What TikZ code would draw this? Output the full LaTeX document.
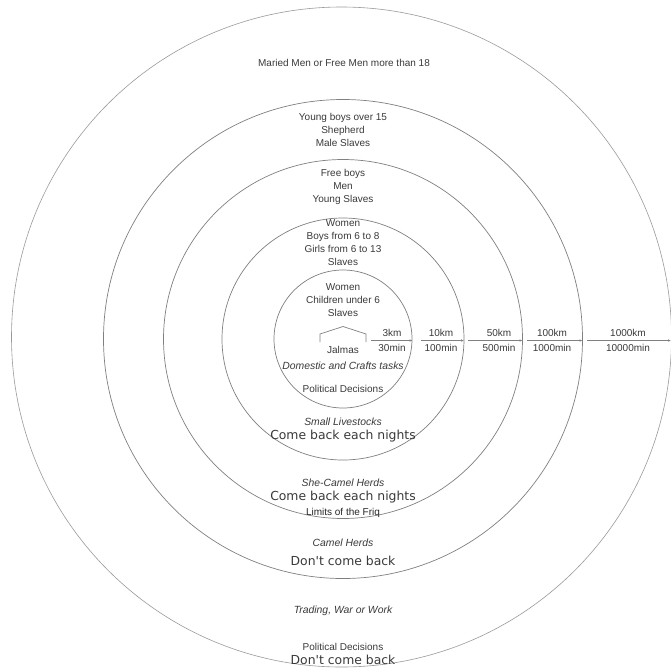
\documentclass[tikz,border=0pt]{standalone}
\usepackage{fontspec}
\setmainfont{Liberation Sans}
\newfontfamily\widefont{DejaVu Sans}
\usetikzlibrary{arrows.meta}
\definecolor{txt}{HTML}{3A3A3A}
\definecolor{ring}{HTML}{808080}
\definecolor{ringout}{HTML}{9A9A9A}
\begin{document}
\begin{tikzpicture}[x=1pt,y=-1pt,
  lbl/.style={font=\fontsize{10}{13}\selectfont, text=txt, align=center, inner sep=0pt},
  ilbl/.style={lbl, font=\fontsize{10.4}{13}\selectfont\itshape},
  big/.style={font=\fontsize{12.4}{14}\selectfont\widefont, text=txt, inner sep=0pt},
  ringline/.style={draw=ring, line width=0.7pt},
  dist/.style={draw=ring, line width=0.6pt, -{Latex[length=3pt,width=2.6pt]}}]
\useasboundingbox (0,0) rectangle (671,670);
\fill[white] (0,0) rectangle (671,670);
% rings
\coordinate (c) at (343,339);
\draw[draw=ringout, line width=0.6pt] (341.5,337) circle[radius=330];
\draw[ringline] (c) circle[radius=239.5];
\draw[ringline] (c) circle[radius=179.5];
\draw[ringline] (c) circle[radius=121];
\draw[ringline] (c) circle[radius=69];
% top labels
\node[lbl] (maried) at (344,63) {Maried Men or Free Men more than 18};
\node[lbl] (young) at (343,130) {Young boys over 15\\Shepherd\\Male Slaves};
\node[lbl] (free) at (343,186.5) {Free boys\\Men\\Young Slaves};
\node[lbl] (women) at (343,243) {Women\\Boys from 6 to 8\\Girls from 6 to 13\\Slaves};
\node[lbl] (inner) at (343,300) {Women\\Children under 6\\Slaves};
% tent
\draw[draw=ring, line width=0.7pt] (320,342) -- (320,334) -- (343,326.5) -- (366,334) -- (366,342);
\node[lbl] (jalmas) at (343,349.5) {Jalmas};
% distance arrows
\coordinate (a0) at (371,340.5); \coordinate (a1) at (412.5,340.5);
\coordinate (b0) at (421,340.5); \coordinate (b1) at (464,340.5);
\coordinate (d0) at (468,340.5); \coordinate (d1) at (522.5,340.5);
\coordinate (e0) at (527,340.5); \coordinate (e1) at (582.5,340.5);
\coordinate (f0) at (587,340.5); \coordinate (f1) at (671,340.5);
\draw[dist] (a0) -- (a1);
\draw[dist] (b0) -- (b1);
\draw[dist] (d0) -- (d1);
\draw[dist] (e0) -- (e1);
\draw[dist] (f0) -- (f1);
\node[lbl] (k1) at (392,333) {3km};   \node[lbl] (m1) at (392,348) {30min};
\node[lbl] (k2) at (441,333) {10km};  \node[lbl] (m2) at (441,348) {100min};
\node[lbl] (k3) at (499,333) {50km};  \node[lbl] (m3) at (499,348) {500min};
\node[lbl] (k4) at (552,333) {100km}; \node[lbl] (m4) at (552,348) {1000min};
\node[lbl] (k5) at (628,333) {1000km};\node[lbl] (m5) at (628,348) {10000min};
% lower labels
\node[ilbl] (dom) at (343,366) {Domestic and Crafts tasks};
\node[lbl] (pol1) at (343,389) {Political Decisions};
\node[ilbl] (small) at (343,422) {Small Livestocks};
\node[big] (cb1) at (343,436) {Come back each nights};
\node[ilbl] (she) at (343,483) {She-Camel Herds};
\node[big] (cb2) at (343,497.5) {Come back each nights};
\node[lbl, text=black!85] (friq) at (343,513) {Limits of the Friq};
\node[ilbl] (camel) at (343,543) {Camel Herds};
\node[big] (dc1) at (343,561) {Don't come back};
\node[ilbl] (trade) at (343,611) {Trading, War or Work};
\node[lbl] (pol2) at (343,647) {Political Decisions};
\node[big] (dc2) at (343,659.5) {Don't come back};
\end{tikzpicture}
\end{document}
